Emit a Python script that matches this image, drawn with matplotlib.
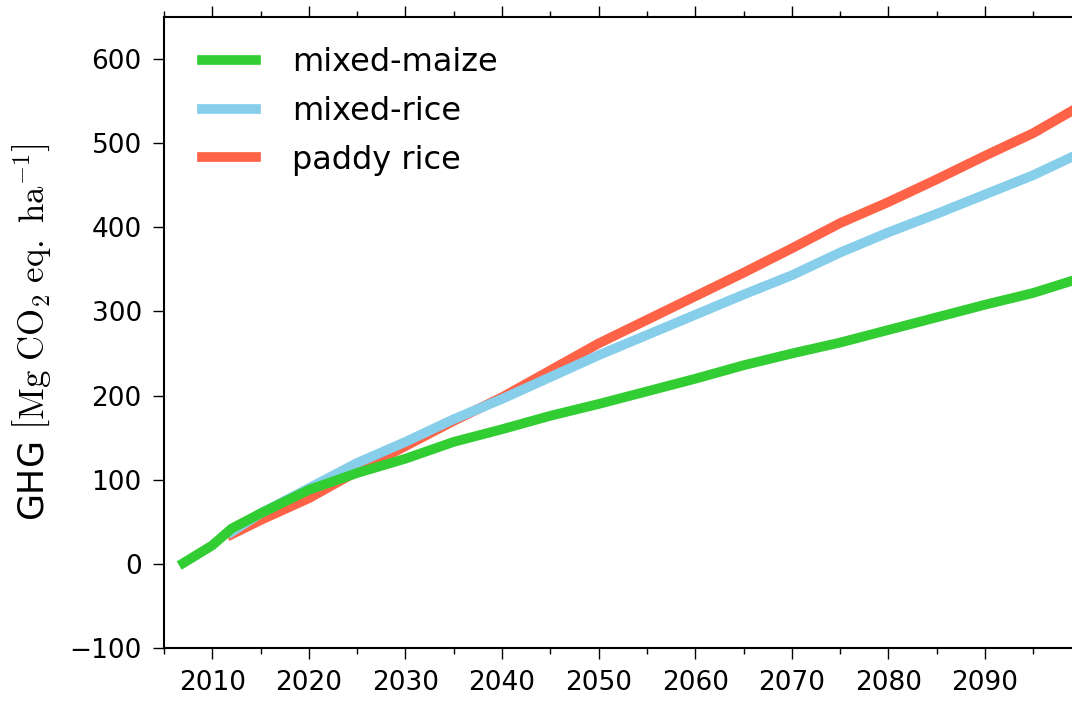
import numpy as np
import matplotlib
matplotlib.use("Agg")
import matplotlib.pyplot as plt

plt.rcParams['mathtext.fontset'] = 'cm'
plt.rcParams['font.family'] = ['DejaVu Sans']

# cumulative GHG
maize_years = [2007, 2010, 2012, 2015, 2020, 2025, 2030, 2035, 2040, 2045, 2050,
               2055, 2060, 2065, 2070, 2075, 2080, 2085, 2090, 2095, 2100]
maize_ghg = [1, 22, 42, 60, 88, 108, 125, 145, 160, 176, 190,
             205, 220, 236, 250, 263, 278, 293, 308, 322, 340]

rice_years = [2012, 2015, 2020, 2025, 2030, 2035, 2040, 2045, 2050, 2055,
              2060, 2065, 2070, 2075, 2080, 2085, 2090, 2095, 2100]
mixed_rice_ghg = [38, 60, 90, 120, 145, 172, 196, 222, 248, 272,
                  296, 320, 343, 370, 394, 416, 439, 462, 489]
paddy_rice_ghg = [35, 52, 78, 110, 140, 170, 198, 230, 262, 290,
                  318, 346, 375, 405, 430, 457, 485, 512, 545]

labels = ['mixed-maize', 'mixed-rice', 'paddy rice']
colors = ['limegreen', 'skyblue', 'tomato']

fig = plt.figure(figsize=(10.72, 7.02), dpi=100)
ax = fig.add_axes([0.153, 0.0769, 0.856, 0.899])

lw = 7
l3, = ax.plot(rice_years, paddy_rice_ghg, color=colors[2], lw=lw, label=labels[2])
l2, = ax.plot(rice_years, mixed_rice_ghg, color=colors[1], lw=lw, label=labels[1])
l1, = ax.plot(maize_years, maize_ghg, color=colors[0], lw=lw, label=labels[0])

ax.set_xlim(2007, 2100)
ax.set_ylim(-100, 650)
ax.set_xticks(np.arange(2010, 2100, 10))
ax.set_xticks(np.arange(2005, 2100, 5), minor=True)
ax.set_yticks(np.arange(-100, 700, 100))

ax.tick_params(axis='both', which='major', direction='out', length=8, width=1,
               labelsize=19, pad=8, top=True, right=True)
ax.tick_params(axis='x', which='minor', direction='out', length=4, width=1, top=True)
for s in ax.spines.values():
    s.set_linewidth(1.5)

ax.set_ylabel(r'GHG $\left[\mathrm{Mg\ CO_2\ eq.\ ha^{-1}}\right]$', fontsize=25,
              labelpad=12)

ax.legend(handles=[l1, l2, l3], loc='upper left', bbox_to_anchor=(0.027, 0.972),
          borderaxespad=0, frameon=False, fontsize=23,
          handlelength=1.7, handletextpad=1.13, labelspacing=0.55)

fig.savefig('out.png', dpi=100)
